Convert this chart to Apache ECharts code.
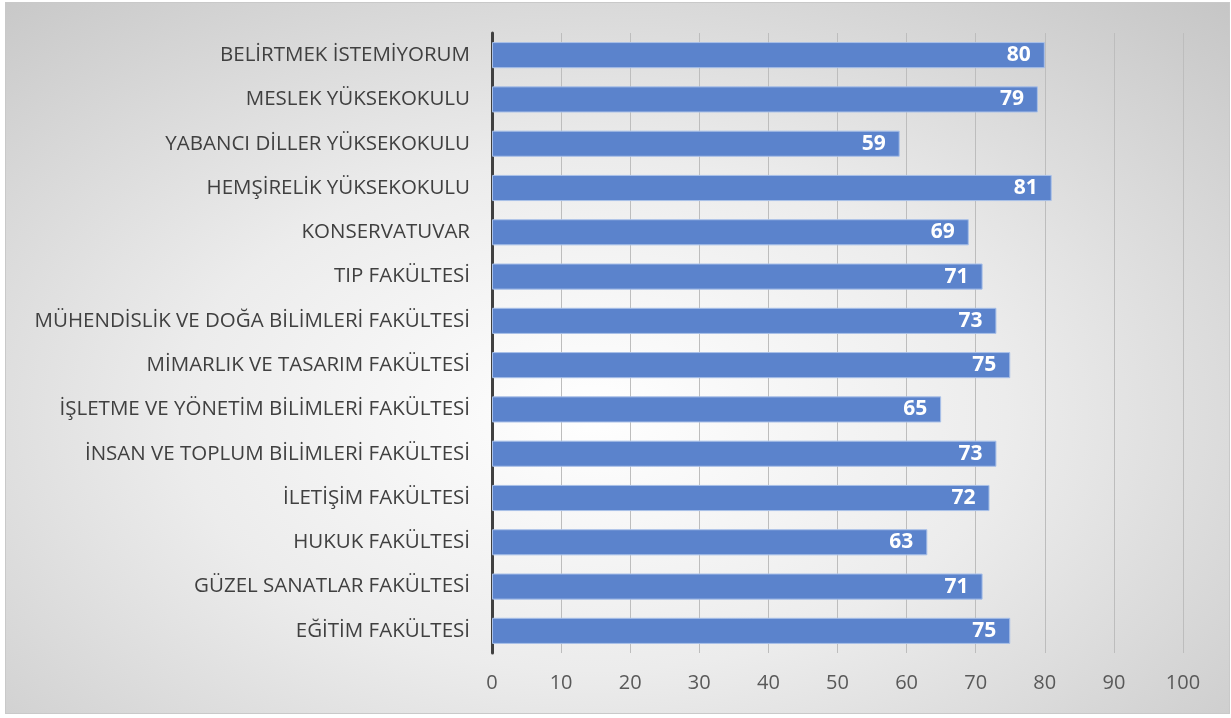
<!DOCTYPE html>
<html>
<head>
    <meta charset="utf-8">
    <script src="https://cdn.jsdelivr.net/npm/echarts@6/dist/echarts.min.js"></script>
    <style>
        html, body { margin: 0; padding: 0; background: #fff; }
        #main {
            position: absolute; left: 5px; top: 2px; width: 1223px; height: 710px;
            border: 1px solid #c9c9c9;
            background: radial-gradient(ellipse 75% 80% at 48% 58%, #ffffff 0%, #ececec 45%, #c6c6c6 100%);
        }
    </style>
</head>
<body>
<div id="main"></div>
<script type="text/javascript">
    // categories from bottom to top
    var categories = [
        'EĞİTİM FAKÜLTESİ',
        'GÜZEL SANATLAR FAKÜLTESİ',
        'HUKUK FAKÜLTESİ',
        'İLETİŞİM FAKÜLTESİ',
        'İNSAN VE TOPLUM BİLİMLERİ FAKÜLTESİ',
        'İŞLETME VE YÖNETİM BİLİMLERİ FAKÜLTESİ',
        'MİMARLIK VE TASARIM FAKÜLTESİ',
        'MÜHENDİSLİK VE DOĞA BİLİMLERİ FAKÜLTESİ',
        'TIP FAKÜLTESİ',
        'KONSERVATUVAR',
        'HEMŞİRELİK YÜKSEKOKULU',
        'YABANCI DİLLER YÜKSEKOKULU',
        'MESLEK YÜKSEKOKULU',
        'BELİRTMEK İSTEMİYORUM'
    ];
    var values = [75, 71, 63, 72, 73, 65, 75, 73, 71, 69, 81, 59, 79, 80];

    var myChart = echarts.init(document.getElementById('main'));
    myChart.setOption({
        textStyle: {fontFamily: 'Open Sans'},
        grid: {left: 486, right: 46, top: 30, bottom: 60},
        xAxis: {
            type: 'value',
            min: 0,
            max: 100,
            interval: 10,
            axisLine: {show: false},
            axisTick: {show: false},
            axisLabel: {color: '#595959', fontSize: 20, margin: 20},
            splitLine: {lineStyle: {color: '#bdbdbd', width: 1}}
        },
        yAxis: {
            type: 'category',
            data: categories,
            axisTick: {show: false},
            axisLine: {lineStyle: {color: '#404040', width: 3}},
            axisLabel: {color: '#404040', fontSize: 20.5, margin: 22}
        },
        series: [{
            type: 'bar',
            data: values,
            barCategoryGap: '41%',
            itemStyle: {color: '#5b83cc', borderColor: '#a9c0e8', borderWidth: 1},
            label: {
                show: true,
                position: 'insideRight',
                distance: 14,
                color: '#fff',
                fontSize: 21,
                fontWeight: 'bold'
            }
        }]
    });
</script>
</body>
</html>
